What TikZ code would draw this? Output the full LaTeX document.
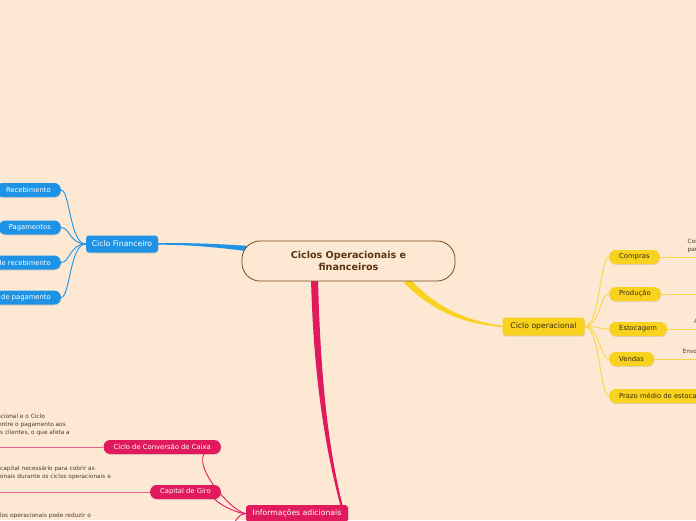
\documentclass[tikz,border=0pt]{standalone}
\usepackage{fontspec}
\setmainfont{DejaVu Sans}
\usetikzlibrary{calc,shadows}
\pgfdeclarelayer{bg}
\pgfsetlayers{bg,main}
\definecolor{bgc}{HTML}{FDE8D3}
\definecolor{bluec}{HTML}{1E93E5}
\definecolor{yelc}{HTML}{F9D21F}
\definecolor{yelline}{HTML}{F8D645}
\definecolor{pinkc}{HTML}{E01A5C}
\definecolor{pinkline}{HTML}{E6628A}
\definecolor{rootbd}{HTML}{764A20}
\definecolor{roottx}{HTML}{5A3412}
\definecolor{smalltx}{HTML}{4A3A30}
\definecolor{yeltx}{HTML}{3A2A0A}
\tikzset{
  shad/.style={drop shadow={opacity=0.22,shadow xshift=0.5pt,shadow yshift=-1pt}},
  rootbox/.style={draw=rootbd, line width=0.8pt, fill=bgc, rounded corners=18pt,
    minimum width=213pt, minimum height=40pt, inner sep=0pt, align=center,
    text=roottx, font=\bfseries\fontsize{9.6}{12.5}\selectfont},
  mainbox/.style={shad, rounded corners=3pt, minimum height=17pt, inner sep=0pt,
    font=\fontsize{7.7}{9}\selectfont},
  childbox/.style={shad, rounded corners=6.5pt, minimum height=14pt, inner xsep=10pt,
    inner ysep=0pt, font=\fontsize{6.8}{8}\selectfont},
  bluebox/.style={fill=bluec, text=white},
  yelbox/.style={fill=yelc, text=yeltx},
  pinkbox/.style={fill=pinkc, text=white},
  small/.style={font=\fontsize{5.8}{8}\selectfont, text=smalltx, inner sep=0pt},
  thinb/.style={draw=bluec, line width=0.9pt},
  thiny/.style={draw=yelline, line width=0.9pt},
  thinp/.style={draw=pinkc, line width=0.9pt},
  subp/.style={draw=pinkline, line width=1pt},
}
\begin{document}
\begin{tikzpicture}[x=1pt,y=-1pt]
\useasboundingbox (0,0) rectangle (696,520);
% nodes
\node[rootbox] (root) at (348.5,261) {Ciclos Operacionais e\\financeiros};

\node[mainbox,bluebox,minimum width=72pt] (fin) at (122,244) {Ciclo Financeiro};
\node[childbox,bluebox,anchor=east] (rec) at (61,190) {Recebimento};
\node[childbox,bluebox,anchor=east] (pag) at (61,227.5) {Pagamentos};
\node[childbox,bluebox,anchor=east] (pmr) at (61,262.5) {Prazo médio de recebimento};
\node[childbox,bluebox,anchor=east] (pmp) at (61,297.5) {Prazo médio de pagamento};

\node[mainbox,yelbox,minimum width=82pt,minimum height=18pt] (op) at (543.5,326.5) {Ciclo operacional};
\node[childbox,yelbox,anchor=west] (com) at (609,257) {Compras};
\node[childbox,yelbox,anchor=west] (prod) at (609,294) {Produção};
\node[childbox,yelbox,anchor=west] (est) at (609,329) {Estocagem};
\node[childbox,yelbox,anchor=west] (ven) at (609,359) {Vendas};
\node[childbox,yelbox,anchor=west] (pme) at (609,396) {Prazo médio de estocagem};

\node[mainbox,pinkbox,minimum width=102pt] (inf) at (297,513.5) {Informações adicionais};
\node[childbox,pinkbox,anchor=east] (ccc) at (221,447) {Ciclo de Conversão de Caixa};
\node[childbox,pinkbox,anchor=east] (cg) at (221,492) {Capital de Giro};
\coordinate (c3) at (221,542);

% text-only subtopics
\node[small,align=left,anchor=west] (tcom) at (687.5,246) {Compra de matéria-prima\\para a produção};
\node[small,anchor=west] (test) at (694,322) {Armazenagem dos produtos};
\node[small,anchor=west] (tven) at (682.5,352) {Envolve a venda dos produtos};

\node[small,anchor=east] (a1) at (45,417) {Operacional e o Ciclo};
\node[small,anchor=east] (a2) at (66,425) {o tempo entre o pagamento aos};
\node[small,anchor=east] (a3) at (70,433) {recebimento dos clientes, o que afeta a};
\node[small,anchor=east] (b1) at (95,469) {representa o capital necessário para cobrir as};
\node[small,anchor=east] (b2) at (111,477) {despesas operacionais durante os ciclos operacionais e};
\node[small,anchor=east] (d1) at (91,515.5) {A otimização dos ciclos operacionais pode reduzir o};

\coordinate (redge) at (705,0);
\coordinate (ledge) at (-8,0);

\begin{pgfonlayer}{bg}
\fill[bgc] (0,0) rectangle (696,520);
% main tapered branches
\fill[bluec] ($(root.west)+(8,-15)$) .. controls (220,244) and (190,242.6) .. ($(fin.east)+(-2,-0.8)$)
  -- ($(fin.east)+(-2,0.7)$) .. controls (190,244.5) and (220,247.6) .. ($(root.west)+(8,-9.5)$) -- cycle;
\fill[yelc] ($(root.south)+(62,-2)$) .. controls (432,303) and (461,321) .. ($(op.west)+(2,-0.7)$)
  -- ($(op.west)+(2,0.7)$) .. controls (458,324) and (428,307) .. ($(root.south)+(55,1)$) -- cycle;
\fill[pinkc] ($(root.south)+(-37.5,-3)$) .. controls (313.5,380) and (326,452) .. ($(inf.north)+(44,3)$)
  -- ($(inf.north)+(46.2,3)$) .. controls (328.5,450) and (320.5,380) .. ($(root.south)+(-30.5,-3)$) -- cycle;
% thin connectors
\foreach \n in {rec,pag,pmr,pmp}
  \draw[thinb] (fin.west) .. controls +(-16,0) and +(9,0) .. (\n.east);
\foreach \n in {com,prod,est,ven,pme}
  \draw[thiny] (op.east) .. controls +(15,0) and +(-9,0) .. (\n.west);
\foreach \n in {ccc,cg,c3}
  \draw[thinp] (inf.west) .. controls +(-14,0) and +(11,0) .. (\n);
\draw[thiny] (com.east) -- (com.east -| redge);
\draw[thiny] (prod.east) -- (prod.east -| redge);
\draw[thiny] (est.east) -- (est.east -| redge);
\draw[thiny] (ven.east) -- (ven.east -| redge);
\draw[subp] (ccc.west) -- (ccc.west -| ledge);
\draw[subp] (cg.west) -- (cg.west -| ledge);
\end{pgfonlayer}
\end{tikzpicture}
\end{document}
